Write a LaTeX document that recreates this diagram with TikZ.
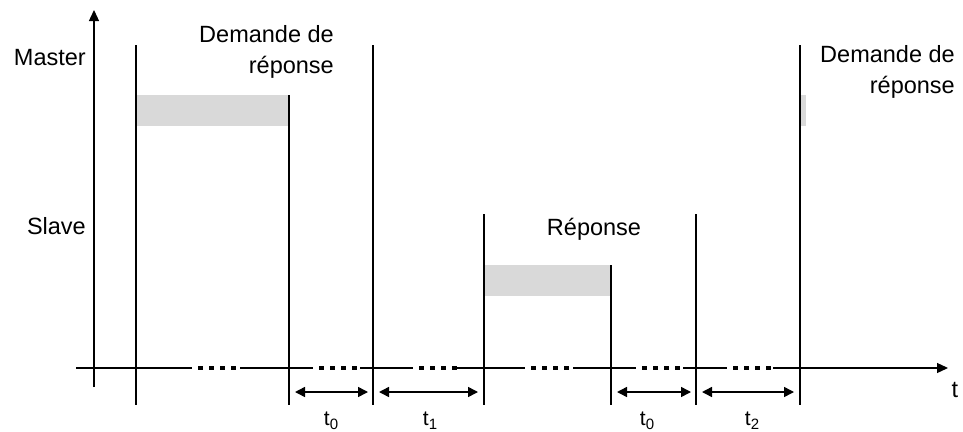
\documentclass[tikz,border=0pt]{standalone}
\usepackage{fontspec}
\setmainfont{Liberation Sans}
\usetikzlibrary{arrows.meta}
\definecolor{barGrey}{HTML}{D9D9D9}
\newcommand{\mysub}[1]{\raisebox{-4.5pt}{\fontsize{15}{15}\selectfont #1}}
\begin{document}
\begin{tikzpicture}[x=1pt,y=-1pt,
  lbl/.style={font=\fontsize{23.5}{27}\selectfont, inner sep=0pt, anchor=base east},
  tlbl/.style={font=\fontsize{21}{24}\selectfont, inner sep=0pt, anchor=base},
  vline/.style={line width=1.1pt},
  axisline/.style={line width=1.3pt},
  dotseg/.style={line width=4pt, dash pattern=on 5pt off 6pt, dash phase=5pt},
  dim/.style={line width=1.5pt, {Triangle[length=10pt,width=10pt]}-{Triangle[length=10pt,width=10pt]}},
  tip/.style={-{Triangle[length=11pt,width=10pt]}}]
\useasboundingbox (0,0) rectangle (963,431);

% grey bars
\fill[barGrey] (137,95) rectangle (289,126);
\fill[barGrey] (484,265) rectangle (611,296);
\fill[barGrey] (800,95) rectangle (806,126);

% y axis
\coordinate (ya0) at (94,387);
\coordinate (ya1) at (94,10);
\draw[axisline, tip] (ya0) -- (ya1);

% x axis: solid pieces
\coordinate (x0) at (76,368);
\coordinate (a1) at (192,368); \coordinate (b1) at (240,368);
\coordinate (a2) at (313,368); \coordinate (b2) at (360,368);
\coordinate (a3) at (413,368); \coordinate (b3) at (457,368);
\coordinate (a4) at (525,368); \coordinate (b4) at (573,368);
\coordinate (a5) at (636,368); \coordinate (b5) at (683,368);
\coordinate (a6) at (727,368); \coordinate (b6) at (773,368);
\coordinate (xend) at (948,368);
\draw[axisline] (x0) -- (a1) (b1) -- (a2) (b2) -- (a3) (b3) -- (a4) (b4) -- (a5) (b5) -- (a6);
\draw[axisline, tip] (b6) -- (xend);
\foreach \i in {1,...,6} \draw[dotseg] (a\i) -- (b\i);

% vertical lines
\coordinate (v1t) at (136,45);  \coordinate (v1b) at (136,405);
\coordinate (v2t) at (289,95);  \coordinate (v2b) at (289,405);
\coordinate (v3t) at (373,45);  \coordinate (v3b) at (373,405);
\coordinate (v4t) at (484,214); \coordinate (v4b) at (484,405);
\coordinate (v5t) at (611,265); \coordinate (v5b) at (611,405);
\coordinate (v6t) at (696,214); \coordinate (v6b) at (696,405);
\coordinate (v7t) at (800,45);  \coordinate (v7b) at (800,405);
\foreach \i in {1,...,7} \draw[vline] (v\i t) -- (v\i b);

% dimension arrows
\coordinate (d1a) at (295,392); \coordinate (d1b) at (368,392);
\coordinate (d2a) at (379,392); \coordinate (d2b) at (478,392);
\coordinate (d3a) at (617,392); \coordinate (d3b) at (691,392);
\coordinate (d4a) at (702,392); \coordinate (d4b) at (794,392);
\foreach \i in {1,...,4} \draw[dim] (d\i a) -- (d\i b);

% labels
\node[lbl] (master) at (86,65) {Master};
\node[lbl] (slave) at (86,234) {Slave};
\node[lbl] (dem1a) at (334,42) {Demande de};
\node[lbl] (dem1b) at (334,73) {réponse};
\node[lbl] (dem2a) at (955,62) {Demande de};
\node[lbl] (dem2b) at (955,93) {réponse};
\node[lbl, anchor=base] (rep) at (594,235) {Réponse};
\node[tlbl] (t0a) at (331,425) {t\mysub{0}};
\node[tlbl] (t1) at (430,425) {t\mysub{1}};
\node[tlbl] (t0b) at (647,425) {t\mysub{0}};
\node[tlbl] (t2) at (752,425) {t\mysub{2}};
\node[lbl, anchor=base] (tt) at (955,397) {t};
\end{tikzpicture}
\end{document}
